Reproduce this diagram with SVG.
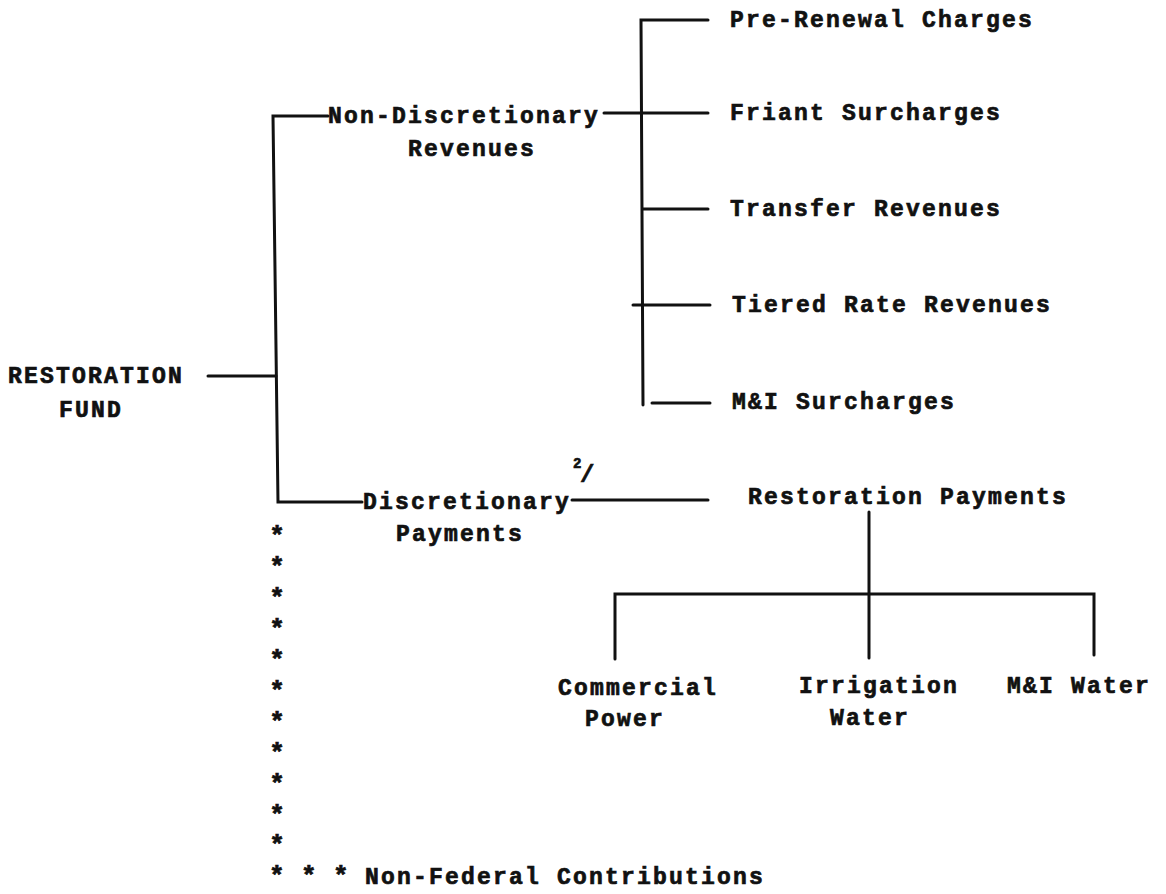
<svg xmlns="http://www.w3.org/2000/svg" width="1166" height="894" viewBox="0 0 1166 894">
<style>
  .t { font-family: "Liberation Mono", "DejaVu Sans Mono", monospace; font-weight: bold; font-size: 23px; letter-spacing: 2.2px; fill: #111; stroke: #111; stroke-width: 0.7; }
  .c { text-anchor: middle; }
  .ast { font-size: 26px; letter-spacing: 0; }
  .ln { stroke: #111; stroke-width: 3; fill: none; stroke-linecap: round; stroke-linejoin: miter; }
  .sup { font-size: 14px; letter-spacing: 0; }
  .sl { font-size: 24px; letter-spacing: 0; }
</style>
<rect width="1166" height="894" fill="#fff"/>
<g id="connectors">
  <path class="ln" d="M208,376 H276"/>
  <path class="ln" d="M328,116 H273 L278,502 H362"/>
  <path class="ln" d="M604,113 H708"/>
  <path class="ln" d="M708,20 H641 L643,405"/>
  <path class="ln" d="M643,209 H708"/>
  <path class="ln" d="M633,305 H710"/>
  <path class="ln" d="M652,403 H710"/>
  <path class="ln" d="M572,500 H708"/>
  <path class="ln" d="M869,512 V658"/>
  <path class="ln" d="M615,659 V594 H1094 V655"/>
</g>
<g id="restoration-fund">
  <text class="t c" x="96" y="383">RESTORATION</text>
  <text class="t c" x="91" y="417">FUND</text>
</g>
<g id="non-discretionary-revenues">
  <text class="t" x="328" y="123">Non-Discretionary</text>
  <text class="t c" x="472" y="156">Revenues</text>
</g>
<g id="pre-renewal-charges"><text class="t" x="730" y="27">Pre-Renewal Charges</text></g>
<g id="friant-surcharges"><text class="t" x="730" y="120">Friant Surcharges</text></g>
<g id="transfer-revenues"><text class="t" x="730" y="216">Transfer Revenues</text></g>
<g id="tiered-rate-revenues"><text class="t" x="732" y="312">Tiered Rate Revenues</text></g>
<g id="mi-surcharges"><text class="t" x="732" y="409">M&amp;I Surcharges</text></g>
<g id="discretionary-payments">
  <text class="t" x="363" y="509">Discretionary</text>
  <text class="t c" x="460" y="541">Payments</text>
  <text class="t sup" x="573" y="468">2</text>
  <text class="t sl" x="580" y="482">/</text>
</g>
<g id="restoration-payments"><text class="t" x="748" y="504">Restoration Payments</text></g>
<g id="commercial-power">
  <text class="t c" x="638" y="695">Commercial</text>
  <text class="t c" x="625" y="726">Power</text>
</g>
<g id="irrigation-water">
  <text class="t c" x="879" y="693">Irrigation</text>
  <text class="t c" x="870" y="725">Water</text>
</g>
<g id="mi-water"><text class="t" x="1007" y="693">M&amp;I Water</text></g>
<g id="non-federal-contributions">
  <text class="t c ast" x="277" y="544">*</text>
  <text class="t c ast" x="277" y="575">*</text>
  <text class="t c ast" x="277" y="606">*</text>
  <text class="t c ast" x="277" y="637">*</text>
  <text class="t c ast" x="277" y="668">*</text>
  <text class="t c ast" x="277" y="699">*</text>
  <text class="t c ast" x="277" y="730">*</text>
  <text class="t c ast" x="277" y="761">*</text>
  <text class="t c ast" x="277" y="792">*</text>
  <text class="t c ast" x="277" y="823">*</text>
  <text class="t c ast" x="277" y="853">*</text>
  <text class="t"><tspan class="ast" x="269" y="884">*</tspan><tspan class="ast" x="301" y="884">*</tspan><tspan class="ast" x="333" y="884">*</tspan><tspan x="365" y="884">Non-Federal Contributions</tspan></text>
</g>
</svg>
